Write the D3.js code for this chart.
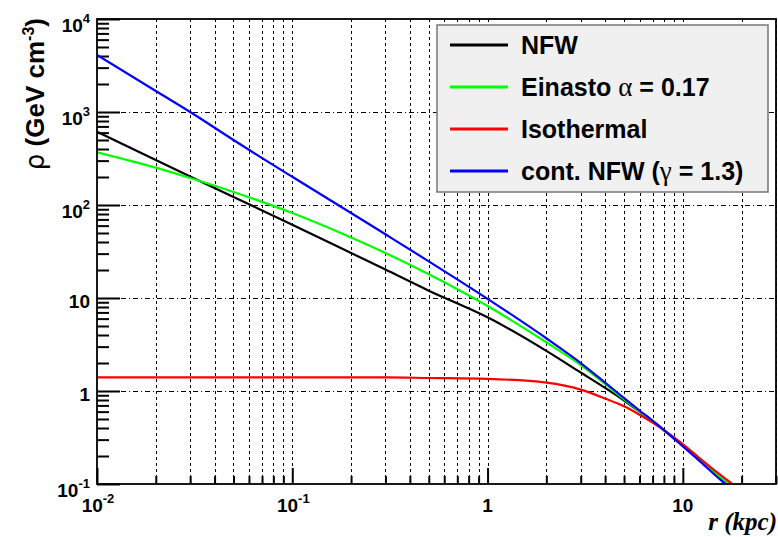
<!DOCTYPE html>
<html>
<head>
<meta charset="utf-8">
<script src="https://cdn.jsdelivr.net/npm/d3@7"></script>
<style>
  body { margin: 0; background: #fff; }
  svg { display: block; }
  text { font-family: "Liberation Sans", Arial, sans-serif; font-weight: bold; }
</style>
</head>
<body>
<div id="chart"></div>
<script>
// radius samples (kpc)
const radii = [0.01, 0.02, 0.03, 0.05, 0.1, 0.2, 0.3, 0.5, 1, 2, 3, 4, 5, 6, 7, 8, 10, 12, 15];

// densities (GeV cm^-3)
const nfwValues      = [614, 305, 203, 122, 61.5, 30.5, 20.2, 12.0, 6.2, 2.7, 1.58, 1.08, 0.79, 0.60, 0.473, 0.38, 0.26, 0.188, 0.124];
const einastoValues  = [369, 252, 195, 138, 82, 44.8, 30.5, 18, 8.2, 3.34, 1.9, 1.19, 0.81, 0.605, 0.473, 0.38, 0.26, 0.188, 0.126];
const isoValues      = [1.40, 1.40, 1.40, 1.40, 1.40, 1.40, 1.40, 1.38, 1.35, 1.23, 1.035, 0.83, 0.684, 0.556, 0.457, 0.38, 0.269, 0.195, 0.133];
const contNfwValues  = [4100, 1683, 1000, 500, 201, 82, 48.4, 24.8, 9.8, 3.69, 2.0, 1.23, 0.84, 0.617, 0.479, 0.38, 0.254, 0.182, 0.119];

// radius where each curve leaves the bottom of the frame (rho = 0.1)
const curveEnds = [17.0, 17.2, 17.9, 16.5];

const seriesNames  = ['NFW', 'Einasto', 'Isothermal', 'cont. NFW'];
const seriesColors = ['#000000', '#00ff00', '#ff0000', '#0000ff'];
const seriesValues = [nfwValues, einastoValues, isoValues, contNfwValues];

const yTickValues = [0.1, 1, 10, 100, 1000, 10000];
const yTickBase   = ['10', '1', '10', '10', '10', '10'];
const yTickExp    = ['-1', '', '', '2', '3', '4'];
const xTickValues = [0.01, 0.1, 1, 10];
const xTickBase   = ['10', '10', '1', '10'];
const xTickExp    = ['-2', '-1', '', ''];

const W = 778, H = 537;
const margin = { top: 19, right: 2, bottom: 53, left: 97 };

const svg = d3.select('#chart').append('svg')
    .attr('width', W)
    .attr('height', H);

const x = d3.scaleLog()
    .domain([0.01, 30])
    .range([margin.left, W - margin.right]);

const y = d3.scaleLog()
    .domain([0.1, 1e4])
    .range([H - margin.bottom, margin.top]);

const x0 = x.range()[0], x1 = x.range()[1];
const yb = y.range()[0], yt = y.range()[1];
const crisp = v => Math.round(v) + 0.5;

// Grid
const xAll = x.ticks();
svg.append('g').selectAll('line')
    .data(xAll.filter(d => d > 0.01))
    .join('line')
    .attr('x1', d => crisp(x(d))).attr('x2', d => crisp(x(d)))
    .attr('y1', yt).attr('y2', yb)
    .attr('stroke', '#000')
    .attr('stroke-width', 1)
    .attr('stroke-dasharray', '3,3');

svg.append('g').selectAll('line')
    .data(yTickValues.slice(1, -1))
    .join('line')
    .attr('x1', x0).attr('x2', x1)
    .attr('y1', d => crisp(y(d))).attr('y2', d => crisp(y(d)))
    .attr('stroke', '#000')
    .attr('stroke-width', 1)
    .attr('stroke-dasharray', '5,3,1,3');

// Axis ticks (pointing inward)
const yMinor = y.ticks().filter(d => !yTickValues.includes(d));
svg.append('g')
    .attr('transform', `translate(${x0},0)`)
    .call(d3.axisLeft(y).tickValues(yMinor).tickSize(-12).tickFormat(''))
    .call(g => g.select('.domain').remove())
    .selectAll('line').attr('stroke-width', 2);

svg.append('g')
    .attr('transform', `translate(${x0},0)`)
    .call(d3.axisLeft(y).tickValues(yTickValues).tickSize(-23).tickFormat(''))
    .call(g => g.select('.domain').remove())
    .selectAll('line').attr('stroke-width', 2);

const xMinor = xAll.filter(d => !xTickValues.includes(d));
svg.append('g')
    .attr('transform', `translate(0,${yb})`)
    .call(d3.axisBottom(x).tickValues(xMinor).tickSize(-8).tickFormat(''))
    .call(g => g.select('.domain').remove())
    .selectAll('line').attr('stroke-width', 2);

svg.append('g')
    .attr('transform', `translate(0,${yb})`)
    .call(d3.axisBottom(x).tickValues(xTickValues).tickSize(-16).tickFormat(''))
    .call(g => g.select('.domain').remove())
    .selectAll('line').attr('stroke-width', 2);

// Curves
svg.append('clipPath').attr('id', 'clip')
    .append('rect')
    .attr('x', x0).attr('y', yt)
    .attr('width', x1 - x0).attr('height', yb - yt);

const line = d3.line()
    .x(d => x(d[0]))
    .y(d => y(d[1]))
    .curve(d3.curveMonotoneX);

seriesValues.forEach((vals, i) => {
    const pts = radii.map((r, j) => [r, vals[j]]);
    pts.push([curveEnds[i], 0.1]);
    svg.append('path')
        .datum(pts)
        .attr('clip-path', 'url(#clip)')
        .attr('fill', 'none')
        .attr('stroke', seriesColors[i])
        .attr('stroke-width', 2.2)
        .attr('d', line);
});

// Frame
svg.append('rect')
    .attr('x', x0).attr('y', yt)
    .attr('width', x1 - x0).attr('height', yb - yt)
    .attr('fill', 'none')
    .attr('stroke', '#000')
    .attr('stroke-width', 1.8);

// Tick labels
yTickValues.forEach((v, i) => {
    const t = svg.append('text')
        .attr('x', 90)
        .attr('y', y(v) + (yTickExp[i] ? 13 : 10))
        .attr('text-anchor', 'end')
        .style('font-size', '19px');
    t.append('tspan').text(yTickBase[i]);
    if (yTickExp[i]) {
        t.append('tspan').attr('dy', -9).style('font-size', '13px').text(yTickExp[i]);
    }
});

xTickValues.forEach((v, i) => {
    const t = svg.append('text')
        .attr('x', x(v) + (xTickExp[i] ? 1 : 0))
        .attr('y', 512)
        .attr('text-anchor', 'middle')
        .style('font-size', '19px');
    t.append('tspan').text(xTickBase[i]);
    if (xTickExp[i]) {
        t.append('tspan').attr('dy', -9).style('font-size', '13px').text(xTickExp[i]);
    }
});

// Axis titles
svg.append('text')
    .attr('x', 777)
    .attr('y', 530)
    .attr('text-anchor', 'end')
    .style('font-family', '"Liberation Serif", "Times New Roman", serif')
    .style('font-style', 'italic')
    .style('font-size', '25px')
    .text('r (kpc)');

const yTitle = svg.append('text')
    .attr('transform', 'translate(44,18) rotate(-90)')
    .attr('text-anchor', 'end')
    .style('font-size', '26px');
yTitle.append('tspan').style('font-weight', 'normal').style('font-family', '"DejaVu Sans", sans-serif').text('ρ');
yTitle.append('tspan').text(' (GeV cm');
yTitle.append('tspan').attr('dy', -10).style('font-size', '16px').text('-3');
yTitle.append('tspan').attr('dy', 10).text(')');

// Legend
const lg = svg.append('g');
lg.append('rect')
    .attr('x', 437).attr('y', 25)
    .attr('width', 331).attr('height', 167)
    .attr('fill', '#f0f0f0')
    .attr('stroke', '#777')
    .attr('stroke-width', 1.5);

const legendRows = [
    [{ t: 'NFW' }],
    [{ t: 'Einasto ' }, { t: 'α', greek: true }, { t: ' = 0.17' }],
    [{ t: 'Isothermal' }],
    [{ t: 'cont. NFW (' }, { t: 'γ', greek: true }, { t: ' = 1.3)' }]
];

legendRows.forEach((parts, i) => {
    const ly = 45 + i * 42;
    lg.append('line')
        .attr('x1', 450).attr('x2', 508)
        .attr('y1', ly).attr('y2', ly)
        .attr('stroke', seriesColors[i])
        .attr('stroke-width', 3);
    const t = lg.append('text')
        .attr('x', 521)
        .attr('y', ly + 9)
        .style('font-size', '25px');
    parts.forEach(p => {
        const s = t.append('tspan').text(p.t);
        if (p.greek) s.style('font-family', '"Liberation Serif", serif').style('font-weight', 'normal').style('font-size', '27px');
    });
});
</script>
</body>
</html>
